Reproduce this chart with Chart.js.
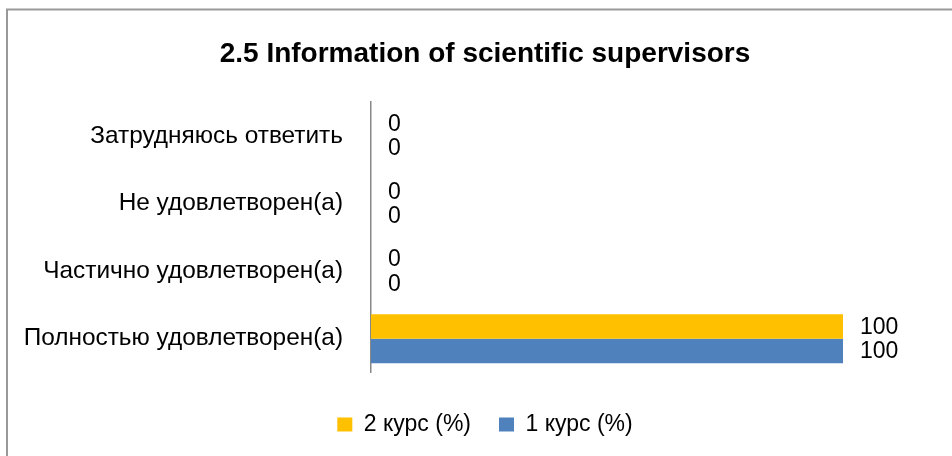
<!DOCTYPE html>
<html lang="ru">
<head>
  <meta charset="utf-8">
  <title>2.5 Information of scientific supervisors</title>
  <style>
    html, body { margin: 0; padding: 0; background: #fff; }
    #wrap { width: 952px; height: 456px; }
  </style>
</head>
<body>
  <div id="wrap">
    <canvas id="chart" width="952" height="456"></canvas>
  </div>
  <script src="https://cdn.jsdelivr.net/npm/chart.js@4.4.1/dist/chart.umd.min.js"></script>
  <script>
    // categories listed top to bottom
    const categories = ['Затрудняюсь ответить', 'Не удовлетворен(а)', 'Частично удовлетворен(а)', 'Полностью удовлетворен(а)'];
    const course2 = [0, 0, 0, 100];
    const course1 = [0, 0, 0, 100];
    const seriesNames = ['2 курс (%)', '1 курс (%)'];

    const FONT = "'Liberation Sans', Arial, sans-serif";

    // frame like the office chart border (top + left only visible)
    const framePlugin = {
      id: 'frame',
      beforeDraw(chart) {
        const ctx = chart.ctx;
        ctx.save();
        ctx.strokeStyle = '#999';
        ctx.lineWidth = 2;
        ctx.beginPath();
        ctx.moveTo(952, 9.5);
        ctx.lineTo(7, 9.5);
        ctx.lineTo(7, 456);
        ctx.stroke();
        ctx.restore();
      }
    };

    // value labels right of each bar
    const valueLabels = {
      id: 'valueLabels',
      afterDatasetsDraw(chart) {
        const ctx = chart.ctx;
        ctx.save();
        ctx.font = '23px ' + FONT;
        ctx.fillStyle = '#000';
        ctx.textAlign = 'left';
        ctx.textBaseline = 'middle';
        chart.data.datasets.forEach((ds, i) => {
          chart.getDatasetMeta(i).data.forEach((bar, j) => {
            ctx.fillText(String(ds.data[j]), bar.x + 17, bar.y + 1);
          });
        });
        ctx.restore();
      }
    };

    new Chart(document.getElementById('chart'), {
      type: 'bar',
      data: {
        labels: categories,
        datasets: [
          { label: seriesNames[0], data: course2, backgroundColor: '#FFC000' },
          { label: seriesNames[1], data: course1, backgroundColor: '#4F81BD' }
        ]
      },
      options: {
        indexAxis: 'y',
        responsive: false,
        animation: false,
        barPercentage: 1.0,
        categoryPercentage: 0.726,
        layout: { padding: { top: 0, right: 0, bottom: 10, left: 18 } },
        scales: {
          x: {
            min: 0,
            max: 100,
            grid: { display: false, drawTicks: false },
            border: { display: false },
            ticks: { display: false },
            // empty title used as a spacer between plot and legend
            title: { display: true, text: '', font: { size: 10, lineHeight: 1 }, padding: { top: 2.5, bottom: 0 } }
          },
          y: {
            grid: { display: false, drawTicks: false },
            border: { display: true, color: '#888', width: 1.5 },
            ticks: { color: '#000', padding: 28, font: { family: FONT, size: 24.4 } },
            afterFit(scale) { scale.width = 353; }
          },
          // empty right axis keeps room for the value labels
          yRight: {
            type: 'category',
            position: 'right',
            grid: { display: false, drawTicks: false },
            border: { display: false },
            ticks: { display: false },
            afterFit(scale) { scale.width = 109; }
          }
        },
        plugins: {
          title: {
            display: true,
            text: '2.5 Information of scientific supervisors',
            color: '#000',
            font: { family: FONT, size: 28, weight: 'bold', lineHeight: 1.2 },
            padding: { top: 37, bottom: 31.4 }
          },
          legend: {
            position: 'bottom',
            labels: {
              color: '#000',
              boxWidth: 15,
              boxHeight: 14,
              padding: 28,
              font: { family: FONT, size: 23 }
            }
          },
          tooltip: { enabled: false }
        }
      },
      plugins: [framePlugin, valueLabels]
    });
  </script>
</body>
</html>
